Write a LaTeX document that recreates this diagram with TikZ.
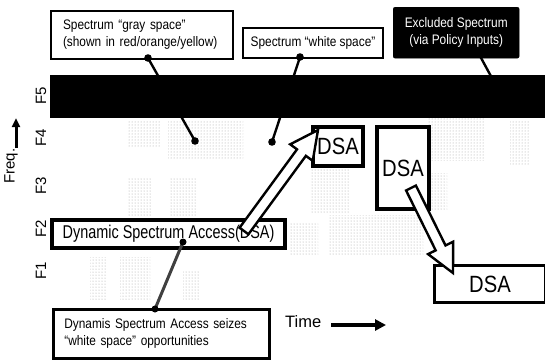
\documentclass[tikz,border=0pt]{standalone}
\usepackage{fontspec}
\setmainfont{Liberation Sans}
\newfontfamily\nar[FakeStretch=0.86]{Liberation Sans}
\newfontfamily\narr[FakeStretch=0.78]{Liberation Sans}
\usetikzlibrary{calc,arrows.meta,patterns}
\tikzset{
  sfont/.style={font=\nar\fontsize{13.8}{16.8}\selectfont},
  thinbox/.style={draw, line width=2pt, fill=white, anchor=north west, inner sep=0pt, align=left, sfont},
  thickbox/.style={draw, line width=4pt, fill=white, anchor=north west, inner sep=0pt},
  dsabox/.style={thickbox, font=\nar\fontsize{23.5}{23.5}\selectfont},
  conn/.style={line width=2.4pt},
  dotend/.style={fill=black},
  hollow/.style={draw=black, fill=white, line width=2.4pt, line join=miter},
  gspace/.style={pattern=dots, pattern color=black!38},
  flabel/.style={rotate=90, font=\fontsize{15}{15}\selectfont}
}
\newcommand{\hollowarrow}[2]{%
  \coordinate (hb) at ($(#2)!28pt!(#1)$);
  \filldraw[hollow] ($(#1)!5.5pt!90:(#2)$) -- ($(hb)!5.5pt!90:(#2)$) -- ($(hb)!14pt!90:(#2)$)
    -- (#2) -- ($(hb)!14pt!-90:(#2)$) -- ($(hb)!5.5pt!-90:(#2)$) -- ($(#1)!5.5pt!-90:(#2)$) -- cycle;
}
\begin{document}
\begin{tikzpicture}[x=1pt,y=-1pt]
\useasboundingbox (0,0) rectangle (545,359);
% gray-space textures
\fill[gspace] (128,120) rectangle (160,146);
\fill[gspace] (168,120) rectangle (243,158);
\fill[gspace] (128,178) rectangle (152,215);
\fill[gspace] (170,178) rectangle (196,215);
\fill[gspace] (310,165) rectangle (350,212);
\fill[gspace] (428,118) rectangle (485,160);
\fill[gspace] (510,120) rectangle (530,165);
\fill[gspace] (428,173) rectangle (447,210);
\fill[gspace] (290,222) rectangle (318,255);
\fill[gspace] (328,215) rectangle (423,255);
\fill[gspace] (90,257) rectangle (107,300);
\fill[gspace] (120,257) rectangle (150,300);
\fill[gspace] (183,270) rectangle (200,300);

% axis labels
\node[flabel] (f5) at (41,96) {F5};
\node[flabel] (f4) at (41,138) {F4};
\node[flabel] (f3) at (41,186) {F3};
\node[flabel] (f2) at (41,229) {F2};
\node[flabel] (f1) at (41,271) {F1};
\node[rotate=90, font=\fontsize{15}{15}\selectfont] (freq) at (11,166) {Freq.};
\coordinate (fa1) at (16,148);
\coordinate (fa2) at (16,118);
\draw[line width=3pt, -{Triangle[length=9pt,width=8pt]}] (fa1) -- (fa2);

% connectors from callouts
\coordinate (g1) at (148,58);
\coordinate (g2) at (195,141);
\coordinate (w1) at (300,57);
\coordinate (w2) at (272,142);
\coordinate (e1) at (480,56);
\coordinate (e2) at (493,80);
\draw[conn] (g1) -- (g2);
\draw[conn] (w1) -- (w2);

% excluded band
\fill[black] (50,75) rectangle (545,118);

% callout boxes
\node[thinbox, minimum width=182pt, minimum height=48pt, text width=158pt, inner xsep=12pt] (graybox) at (50,10)
  {Spectrum “gray space”\\(shown in red/orange/yellow)};
\node[thinbox, minimum width=140pt, minimum height=30pt, align=center] (whitebox) at (242,27)
  {Spectrum “white space”};
\node[draw, fill=black, rounded corners=2pt, anchor=north west, inner sep=0pt, align=center, sfont, text=white,
  minimum width=126pt, minimum height=51pt] (exclbox) at (393,7)
  {Excluded Spectrum\\(via Policy Inputs)};
\draw[conn] (e1) -- (e2);
\fill[dotend] (g1) circle (3.8);
\fill[dotend] (g2) circle (3.8);
\fill[dotend] (w1) circle (3.8);
\fill[dotend] (w2) circle (3.8);

% DSA boxes
\node[thickbox, minimum width=233pt, minimum height=28pt, font=\narr\fontsize{18.5}{18.5}\selectfont] (dsamain) at (50,218)
  {Dynamic Spectrum Access(DSA)};
\node[thinbox, line width=2.6pt, minimum width=216pt, minimum height=49pt, text width=194pt, inner xsep=11pt] (lowbox) at (52,308)
  {Dynamis Spectrum Access seizes\\“white space” opportunities};
\coordinate (d1) at (183,242);
\coordinate (d2) at (155,309);
\draw[line width=3pt, black!75] (d1) -- (d2);
\fill[dotend] (d1) circle (3.5);
\fill[dotend] (d2) circle (3.5);

\node[dsabox, minimum width=50pt, minimum height=39pt] (dsa1) at (311,125) {DSA};
\node[dsabox, minimum width=52pt, minimum height=82pt] (dsa2) at (375,125) {DSA};
\node[dsabox, line width=3pt, minimum width=111pt, minimum height=37pt] (dsa3) at (433,264) {DSA};

% hollow arrows
\coordinate (a1s) at (244,231);
\coordinate (a1e) at (318,130);
\hollowarrow{a1s}{a1e}
\coordinate (a2s) at (411,188);
\coordinate (a2e) at (453,273);
\hollowarrow{a2s}{a2e}

% time axis
\node[font=\fontsize{16.5}{16.5}\selectfont, anchor=west, inner sep=0pt] (time) at (285,322) {Time};
\coordinate (ta1) at (331,325);
\coordinate (ta2) at (386,325);
\draw[line width=4.5pt, -{Triangle[length=11pt,width=11pt]}] (ta1) -- (ta2);
\end{tikzpicture}
\end{document}
